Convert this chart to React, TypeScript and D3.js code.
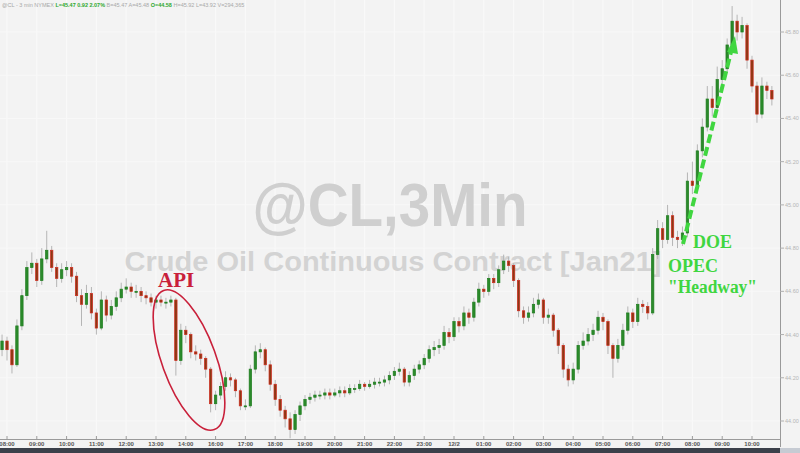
import React from "react";
import * as d3 from "d3";

// 10-minute candles, index i sits at hour offset (i-1)/6 from 08:00 (trading hours only)
const closes = [
  44.37, 44.33, 44.26, 44.44, 44.58, 44.71, 44.73, 44.65, 44.75, 44.79,
  44.71, 44.66, 44.70, 44.71, 44.67, 44.58, 44.54, 44.59, 44.50, 44.43,
  44.56, 44.49, 44.53, 44.57, 44.61, 44.62, 44.60, 44.60, 44.58, 44.57,
  44.55, 44.56, 44.55, 44.55, 44.56, 44.28, 44.42, 44.40, 44.32, 44.31,
  44.29, 44.24, 44.08, 44.12, 44.16, 44.20, 44.19, 44.14, 44.07, 44.07,
  44.24, 44.32, 44.33, 44.26, 44.17, 44.10, 44.05, 44.01, 43.96, 44.03,
  44.07, 44.10, 44.11, 44.12, 44.12, 44.13, 44.12, 44.13, 44.14, 44.13,
  44.15, 44.15, 44.17, 44.16, 44.17, 44.18, 44.18, 44.19, 44.21, 44.23,
  44.24, 44.18, 44.21, 44.24, 44.26, 44.29, 44.33, 44.34, 44.35, 44.41,
  44.39, 44.46, 44.44, 44.50, 44.48, 44.55, 44.61, 44.60, 44.66, 44.64,
  44.70, 44.74, 44.72, 44.65, 44.51, 44.48, 44.50, 44.54, 44.56, 44.48,
  44.49, 44.42, 44.35, 44.24, 44.19, 44.24, 44.35, 44.37, 44.40, 44.42,
  44.48, 44.46, 44.35, 44.29, 44.35, 44.42, 44.50, 44.46, 44.54, 44.53,
  44.50, 44.77, 44.89, 44.84, 44.95, 44.85, 44.84, 44.87, 45.11, 45.09,
  45.25, 45.36, 45.49, 45.45, 45.58, 45.63, 45.74, 45.85, 45.80, 45.83,
  45.67, 45.55, 45.42, 45.55, 45.53, 45.49,
];
const highs = [
  44.40, 44.39, 44.35, 44.47, 44.61, 44.74, 44.78, 44.75, 44.80, 44.88,
  44.81, 44.73, 44.73, 44.74, 44.73, 44.69, 44.61, 44.63, 44.62, 44.52,
  44.60, 44.58, 44.56, 44.60, 44.64, 44.66, 44.64, 44.63, 44.62, 44.60,
  44.59, 44.58, 44.58, 44.57, 44.58, 44.57, 44.45, 44.44, 44.41, 44.35,
  44.33, 44.30, 44.25, 44.14, 44.18, 44.23, 44.22, 44.20, 44.15, 44.10,
  44.26, 44.35, 44.36, 44.34, 44.28, 44.19, 44.12, 44.07, 44.04, 44.05,
  44.09, 44.12, 44.13, 44.14, 44.14, 44.15, 44.15, 44.15, 44.16, 44.16,
  44.17, 44.17, 44.19, 44.18, 44.19, 44.20, 44.20, 44.21, 44.23, 44.25,
  44.27, 44.25, 44.23, 44.26, 44.28, 44.31, 44.35, 44.37, 44.38, 44.44,
  44.43, 44.48, 44.48, 44.53, 44.52, 44.57, 44.64, 44.63, 44.68, 44.68,
  44.72, 44.77, 44.76, 44.73, 44.66, 44.53, 44.53, 44.57, 44.59, 44.57,
  44.52, 44.50, 44.43, 44.36, 44.26, 44.27, 44.37, 44.41, 44.43, 44.45,
  44.51, 44.50, 44.47, 44.36, 44.38, 44.45, 44.53, 44.52, 44.57, 44.56,
  44.55, 44.80, 44.93, 44.92, 45.00, 44.97, 44.88, 44.90, 45.15, 45.20,
  45.28, 45.40, 45.55, 45.55, 45.64, 45.67, 45.77, 45.92, 45.88, 45.87,
  45.84, 45.69, 45.57, 45.59, 45.57, 45.55,
];
const lows = [
  44.30, 44.28, 44.22, 44.25, 44.42, 44.56, 44.68, 44.62, 44.63, 44.73,
  44.69, 44.62, 44.64, 44.67, 44.64, 44.55, 44.44, 44.52, 44.47, 44.40,
  44.42, 44.46, 44.47, 44.51, 44.55, 44.59, 44.57, 44.57, 44.55, 44.54,
  44.53, 44.52, 44.53, 44.52, 44.53, 44.21, 44.26, 44.36, 44.29, 44.28,
  44.26, 44.20, 44.04, 44.05, 44.10, 44.14, 44.16, 44.11, 44.05, 44.05,
  44.06, 44.22, 44.29, 44.23, 44.14, 44.07, 44.02, 43.97, 43.92, 43.94,
  44.00, 44.05, 44.08, 44.09, 44.10, 44.10, 44.10, 44.11, 44.11, 44.11,
  44.12, 44.13, 44.14, 44.14, 44.15, 44.15, 44.16, 44.16, 44.17, 44.19,
  44.21, 44.16, 44.16, 44.19, 44.22, 44.24, 44.27, 44.30, 44.31, 44.33,
  44.36, 44.37, 44.41, 44.42, 44.45, 44.46, 44.53, 44.57, 44.58, 44.61,
  44.62, 44.68, 44.69, 44.62, 44.48, 44.45, 44.46, 44.48, 44.52, 44.45,
  44.45, 44.39, 44.31, 44.20, 44.16, 44.17, 44.22, 44.33, 44.35, 44.37,
  44.40, 44.42, 44.31, 44.20, 44.27, 44.33, 44.40, 44.43, 44.44, 44.50,
  44.47, 44.49, 44.75, 44.80, 44.82, 44.81, 44.80, 44.81, 44.85, 45.05,
  45.07, 45.22, 45.34, 45.41, 45.43, 45.55, 45.61, 45.72, 45.76, 45.77,
  45.63, 45.52, 45.38, 45.40, 45.49, 45.46,
];
const firstOpen = 44.33;

const timeLabels = [
  "08:00", "09:00", "10:00", "11:00", "12:00", "13:00", "14:00", "16:00",
  "17:00", "18:00", "19:00", "20:00", "21:00", "22:00", "23:00", "12/2",
  "01:00", "02:00", "03:00", "04:00", "05:00", "06:00", "07:00", "08:00",
  "09:00", "10:00",
];
const priceTicks = [44.0, 44.2, 44.4, 44.6, 44.8, 45.0, 45.2, 45.4, 45.6, 45.8];

const W = 800;
const H = 453;

export default function App() {
  const x = d3.scaleLinear().domain([0, timeLabels.length - 1]).range([7, 752]);
  const y = d3.scaleLinear().domain([44.0, 45.8]).range([421, 32]);
  const candles = closes.map((c, i) => ({
    t: (i - 1) / 6,
    o: i === 0 ? firstOpen : closes[i - 1],
    c,
    h: highs[i],
    l: lows[i],
  }));
  const bw = 2.4;
  const green = "#40d640";
  const red = "#c9203a";
  return (
    <svg
      width={W}
      height={H}
      style={{ position: "fixed", left: 0, top: 0 }}
      fontFamily="'Liberation Sans', Arial, sans-serif"
    >
      <rect x={0} y={0} width={W} height={H} fill="#f3f3f3" />
      {/* grid */}
      {timeLabels.map((_, i) => (
        <line key={"gv" + i} x1={x(i)} x2={x(i)} y1={0} y2={439} stroke="#fafafa" strokeWidth={1} />
      ))}
      {priceTicks.map((p) => (
        <line key={"gh" + p} x1={0} x2={780} y1={y(p)} y2={y(p)} stroke="#f8f8f8" strokeWidth={1} />
      ))}
      {/* watermark */}
      <text x={390} y={226} textAnchor="middle" fontSize={62} fontWeight="bold" fill="#cfcfcf" textLength={275} lengthAdjust="spacingAndGlyphs">
        @CL,3Min
      </text>
      <text x={393} y={271} textAnchor="middle" fontSize={27} fontWeight="bold" fill="#d3d3d3" textLength={537} lengthAdjust="spacingAndGlyphs">
        Crude Oil Continuous Contract [Jan21]
      </text>
      {/* header */}
      <text x={2} y={7} fontSize={5.5} fill="#a8a8a8">
        <tspan>@CL - 3 min NYMEX </tspan>
        <tspan fill="#2ea82e" fontWeight="bold">L=45.47 0.92 2.07%</tspan>
        <tspan> B=45.47 A=45.48 </tspan>
        <tspan fill="#2ea82e" fontWeight="bold">O=44.58</tspan>
        <tspan> H=45.92 L=43.92 V=294,365</tspan>
      </text>
      {/* candles */}
      {candles.map((d, i) => {
        const up = d.c >= d.o;
        const cx = x(d.t);
        const top = y(Math.max(d.o, d.c));
        const bot = y(Math.min(d.o, d.c));
        return (
          <g key={"c" + i}>
            <line x1={cx} x2={cx} y1={y(d.h)} y2={y(d.l)} stroke="#b5b5b5" strokeWidth={1} />
            <rect
              x={cx - bw / 2}
              y={top}
              width={bw}
              height={Math.max(1, bot - top)}
              fill={up ? "#2b8a2b" : "#8a3a14"}
              stroke={up ? "#1f7d1f" : "#d22a1e"}
              strokeWidth={0.7}
            />
          </g>
        );
      })}
      {/* API annotation */}
      <text x={158} y={287} fontFamily="'Liberation Serif', 'Times New Roman', serif" fontWeight="bold" fontSize={21} fill={red}>
        API
      </text>
      <ellipse cx={189} cy={360} rx={27} ry={74} fill="none" stroke={red} strokeWidth={1.6} transform="rotate(-20 189 360)" />
      {/* OPEC / DOE annotation */}
      <line x1={683} y1={244} x2={731} y2={52} stroke={green} strokeWidth={4} strokeDasharray="9,4" />
      <polygon points="735,36 727,52 738,54" fill={green} />
      <g fontFamily="'Liberation Serif', 'Times New Roman', serif" fontWeight="bold" fontSize={18} fill={green}>
        <text x={693} y={248}>DOE</text>
        <text x={668} y={272}>OPEC</text>
        <text x={668} y={293} textLength={89} lengthAdjust="spacingAndGlyphs">"Headway"</text>
      </g>
      {/* right axis */}
      <rect x={781} y={0} width={19} height={447} fill="#f3f3f3" />
      <line x1={780.5} x2={780.5} y1={0} y2={447} stroke="#9a9a9a" strokeWidth={1} />
      {priceTicks.map((p) => (
        <g key={"yt" + p}>
          <line x1={780} x2={784} y1={y(p)} y2={y(p)} stroke="#b0b0b0" />
          <text x={785} y={y(p) + 2} fontSize={5.5} fill="#b5b5b5">
            {p.toFixed(2)}
          </text>
        </g>
      ))}
      {/* bottom axis */}
      <line x1={0} x2={780} y1={439.5} y2={439.5} stroke="#9a9a9a" strokeWidth={1} />
      {timeLabels.map((t, i) => (
        <g key={"xt" + i}>
          <line x1={x(i)} x2={x(i)} y1={436} y2={440} stroke="#9a9a9a" />
          <text x={x(i)} y={446} textAnchor="middle" fontSize={6} fontWeight="bold" fill="#555">
            {t}
          </text>
        </g>
      ))}
      {/* scrollbar */}
      <rect x={0} y={448} width={780} height={5} fill="#3b404a" />
      <rect x={780} y={448} width={20} height={5} fill="#c6cbd3" />
    </svg>
  );
}
